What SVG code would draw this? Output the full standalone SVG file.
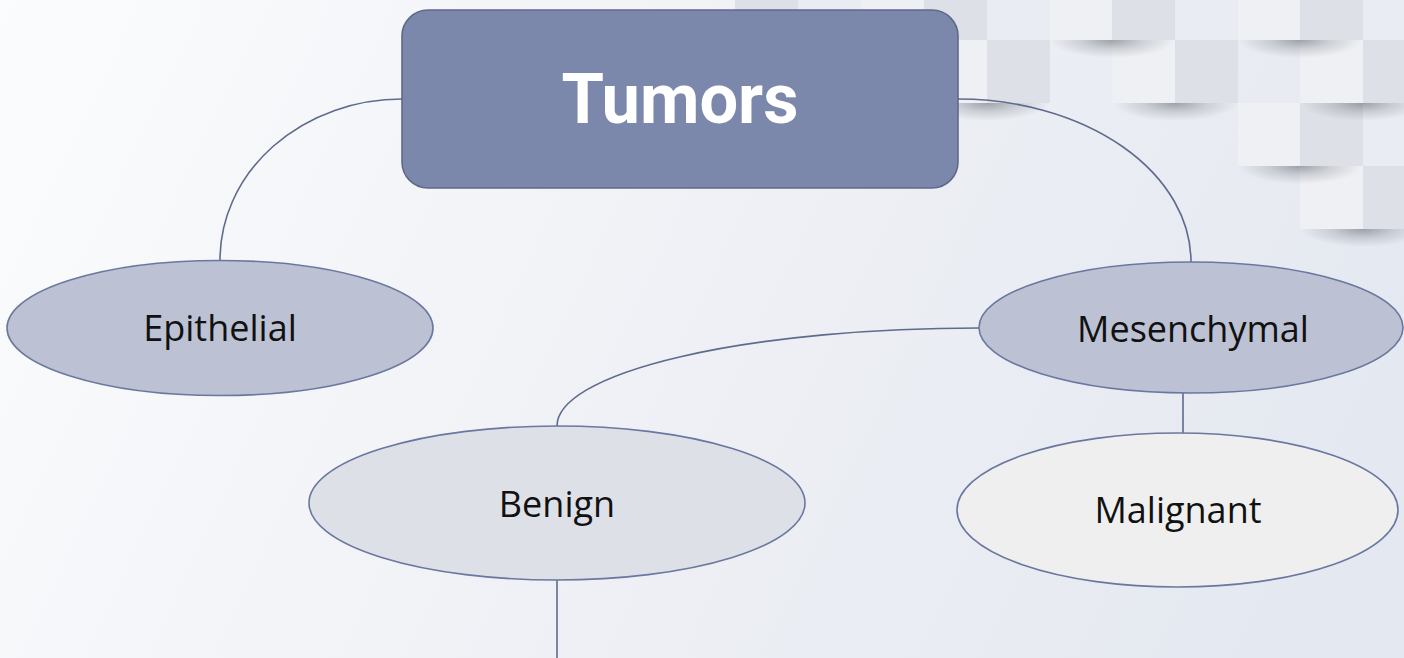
<svg xmlns="http://www.w3.org/2000/svg" width="1404" height="658" viewBox="0 0 1404 658">
  <defs>
    <linearGradient id="bg" gradientUnits="userSpaceOnUse" x1="0" y1="0" x2="1300" y2="620">
      <stop offset="0" stop-color="#fbfcfd"/>
      <stop offset="0.55" stop-color="#eef0f5"/>
      <stop offset="1" stop-color="#e4e8f0"/>
    </linearGradient>
    <radialGradient id="shd" cx="0.5" cy="0" r="0.5" gradientTransform="translate(0.5,0) scale(1,2) translate(-0.5,0)">
      <stop offset="0" stop-color="#5f636c" stop-opacity="0.55"/>
      <stop offset="0.5" stop-color="#5f636c" stop-opacity="0.22"/>
      <stop offset="1" stop-color="#5f636c" stop-opacity="0"/>
    </radialGradient>
    <style>
      .L { fill: #eef0f4; }
      .D { fill: #dde0e6; }
      .M { fill: #e9ecf2; }
      .sh { fill: url(#shd); }
      .conn { fill: none; stroke: #5f6b8d; stroke-width: 1.6; }
      .oval { stroke: #6a77a0; stroke-width: 1.6; }
      .lbl { font-family: "Open Sans", "Liberation Sans", sans-serif; font-size: 36px; fill: #111111; text-anchor: middle; }
    </style>
  </defs>

  <rect x="0" y="0" width="1404" height="658" fill="url(#bg)"/>

  <g id="tiles">
    <!-- row 1 -->
    <rect class="D" x="735" y="-23" width="63" height="63"/>
    <rect class="M" x="798" y="-23" width="63" height="63"/>
    <rect class="L" x="861" y="-23" width="63" height="63"/>
    <rect class="D" x="924" y="-23" width="63" height="63"/>
    <rect class="M" x="987" y="-23" width="63" height="63"/>
    <rect class="L" x="1050" y="-23" width="62" height="63"/>
    <rect class="D" x="1112" y="-23" width="63" height="63"/>
    <rect class="M" x="1175" y="-23" width="63" height="63"/>
    <rect class="L" x="1238" y="-23" width="62" height="63"/>
    <rect class="D" x="1300" y="-23" width="63" height="63"/>
    <rect class="M" x="1363" y="-23" width="63" height="63"/>
    <!-- row 2 -->
    <rect class="L" x="924" y="40" width="63" height="63"/>
    <rect class="D" x="987" y="40" width="63" height="63"/>
    <rect class="L" x="1112" y="40" width="63" height="63"/>
    <rect class="D" x="1175" y="40" width="63" height="63"/>
    <rect class="L" x="1300" y="40" width="63" height="63"/>
    <rect class="D" x="1363" y="40" width="63" height="63"/>
    <!-- row 3 -->
    <rect class="L" x="1238" y="103" width="62" height="63"/>
    <rect class="D" x="1300" y="103" width="63" height="63"/>
    <rect class="M" x="1363" y="103" width="63" height="63"/>
    <!-- row 4 -->
    <rect class="L" x="1300" y="166" width="63" height="63"/>
    <rect class="D" x="1363" y="166" width="63" height="63"/>
    <!-- shadows -->
    <path class="sh" d="M1050,40 A62,18 0 0 0 1174,40 Z"/>
    <path class="sh" d="M1238,40 A62,18 0 0 0 1362,40 Z"/>
    <path class="sh" d="M925,103 A62,18 0 0 0 1049,103 Z"/>
    <path class="sh" d="M1113,103 A62,18 0 0 0 1237,103 Z"/>
    <path class="sh" d="M1301,103 A62,18 0 0 0 1425,103 Z"/>
    <path class="sh" d="M1238,166 A62,18 0 0 0 1362,166 Z"/>
    <path class="sh" d="M1301,229 A62,18 0 0 0 1425,229 Z"/>
  </g>

  <g id="connectors">
    <path class="conn" d="M402,99 A182,161 0 0 0 220,261"/>
    <path class="conn" d="M958,99 A233,163 0 0 1 1191,262"/>
    <path class="conn" d="M557,426 A422,98 0 0 1 979,328"/>
    <line class="conn" x1="1183" y1="393" x2="1183" y2="433"/>
    <line class="conn" x1="557" y1="580" x2="557" y2="658"/>
  </g>

  <g id="node-tumors">
    <rect x="402" y="10" width="556" height="178" rx="26" ry="26" fill="#7b88ab" stroke="#5f6a8a" stroke-width="1.6"/>
    <text x="680" y="123" font-family="Roboto, 'Liberation Sans', sans-serif" font-weight="bold" font-size="70" fill="#ffffff" text-anchor="middle" textLength="237" lengthAdjust="spacingAndGlyphs">Tumors</text>
  </g>

  <g id="node-epithelial">
    <ellipse class="oval" cx="220" cy="328" rx="213" ry="67.5" fill="#bcc2d3"/>
    <text class="lbl" x="220" y="341">Epithelial</text>
  </g>

  <g id="node-mesenchymal">
    <ellipse class="oval" cx="1191" cy="327.5" rx="212" ry="65.5" fill="#bcc2d3"/>
    <text class="lbl" x="1193" y="342">Mesenchymal</text>
  </g>

  <g id="node-benign">
    <ellipse class="oval" cx="557" cy="503" rx="248" ry="77" fill="#dde0e7"/>
    <text class="lbl" x="557" y="517">Benign</text>
  </g>

  <g id="node-malignant">
    <ellipse class="oval" cx="1177.5" cy="510" rx="220.5" ry="77" fill="#efefef"/>
    <text class="lbl" x="1178" y="523">Malignant</text>
  </g>
</svg>
